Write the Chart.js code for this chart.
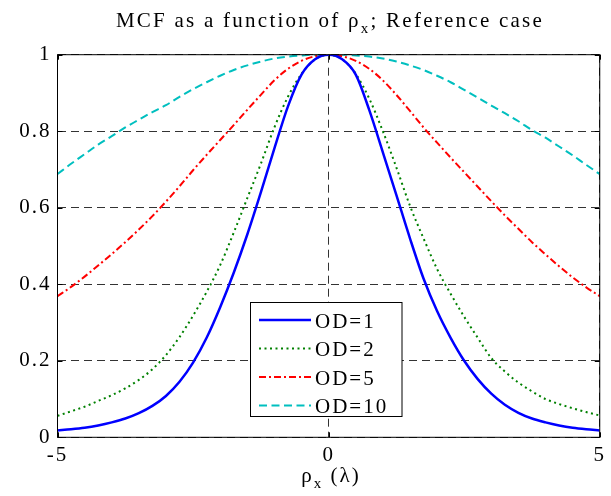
<!DOCTYPE html>
<html><head><meta charset="utf-8">
<script src="https://cdn.jsdelivr.net/npm/chart.js@4"></script>
<style>
html,body{margin:0;padding:0;background:#fff;}
#wrap{position:relative;width:611px;height:496px;overflow:hidden;}
canvas{position:absolute;left:0;top:0;}
.t{position:absolute;font-family:"Liberation Serif","Times New Roman",serif;font-size:21px;letter-spacing:2px;white-space:nowrap;color:#000;line-height:1;transform:translateX(-50%);}
.t sub{font-size:15px;vertical-align:-6px;line-height:0;}
</style></head>
<body><div id="wrap"><canvas id="c" width="611" height="496"></canvas>
<div class="t" id="title" style="left:330px;top:10px;letter-spacing:2.25px;">MCF as a function of ρ<sub>x</sub>; Reference case</div>
<div class="t" id="xlab" style="left:331px;top:465px;">ρ<sub>x</sub> (λ)</div>
</div>
<script>
const xValues = [-5,-4.75,-4.5,-4.25,-4,-3.75,-3.5,-3.25,-3,-2.75,-2.5,-2.25,-2,-1.75,-1.5,-1.25,-1,-0.75,-0.5,-0.25,0,
                 0.25,0.5,0.75,1,1.25,1.5,1.75,2,2.25,2.5,2.75,3,3.25,3.5,3.75,4,4.25,4.5,4.75,5];
const od1 = [0.018,0.021,0.025,0.031,0.039,0.049,0.063,0.082,0.108,0.145,0.195,0.26,0.34,0.43,0.53,0.64,0.755,0.865,0.948,0.988,1,
             0.988,0.948,0.855,0.745,0.633,0.52,0.415,0.33,0.26,0.2,0.152,0.114,0.085,0.064,0.049,0.039,0.031,0.025,0.021,0.018];
const od2 = [0.056,0.068,0.08,0.095,0.11,0.128,0.15,0.178,0.215,0.262,0.318,0.38,0.45,0.535,0.625,0.715,0.81,0.89,0.95,0.988,1,
             0.988,0.95,0.885,0.8,0.705,0.605,0.52,0.44,0.375,0.315,0.26,0.207,0.172,0.143,0.12,0.1,0.087,0.076,0.066,0.057];
const od5 = [0.369,0.393,0.42,0.449,0.479,0.51,0.543,0.578,0.616,0.656,0.698,0.738,0.777,0.816,0.856,0.895,0.933,0.963,0.984,0.996,1,
             0.996,0.984,0.963,0.933,0.895,0.853,0.81,0.77,0.731,0.693,0.655,0.617,0.58,0.545,0.51,0.478,0.447,0.418,0.392,0.369];
const od10 = [0.688,0.715,0.74,0.765,0.787,0.81,0.83,0.85,0.868,0.89,0.91,0.928,0.945,0.96,0.972,0.982,0.99,0.995,0.998,1,1,
              1,0.998,0.995,0.99,0.982,0.972,0.96,0.945,0.928,0.908,0.888,0.867,0.847,0.826,0.803,0.783,0.76,0.737,0.712,0.688];
const seriesLabels = ['OD=1','OD=2','OD=5','OD=10'];
const xTickLabels = ['-5','0','5'];
const yTickLabels = ['0','0.2','0.4','0.6','0.8','1'];

const FONT = '"Liberation Serif", "Times New Roman", serif';
const pts = arr => arr.map((v,i)=>({x:xValues[i], y:v}));

const frame = {
  id:'frame',
  beforeDraw(chart){ chart.ctx.letterSpacing = '2px'; },
  afterDatasetsDraw(chart){
    const ctx = chart.ctx, a = chart.chartArea;
    const xs = chart.scales.x, ys = chart.scales.y;
    ctx.save();
    ctx.setLineDash([]);
    ctx.strokeStyle = '#000'; ctx.lineWidth = 1;
    ctx.beginPath();
    xs.ticks.forEach(t => { const p = Math.round(xs.getPixelForValue(t.value)) + 0.5;
      ctx.moveTo(p, a.bottom); ctx.lineTo(p, a.bottom - 5);
      ctx.moveTo(p, a.top); ctx.lineTo(p, a.top + 5); });
    ys.ticks.forEach(t => { const p = Math.round(ys.getPixelForValue(t.value)) + 0.5;
      ctx.moveTo(a.left, p); ctx.lineTo(a.left + 5, p);
      ctx.moveTo(a.right, p); ctx.lineTo(a.right - 5, p); });
    ctx.stroke();
    ctx.strokeRect(a.left, a.top, a.right - a.left, a.bottom - a.top);
    const L = 250.5, T = 302.5, W = 151.5, H = 114;
    ctx.fillStyle = '#fff'; ctx.fillRect(L, T, W, H);
    ctx.strokeStyle = '#000'; ctx.lineWidth = 1; ctx.strokeRect(L, T, W, H);
    chart.data.datasets.forEach((ds, i) => {
      const y = 320 + i * 28.5;
      ctx.save();
      ctx.strokeStyle = ds.borderColor; ctx.lineWidth = ds.borderWidth;
      ctx.setLineDash(ds.borderDash || []);
      ctx.beginPath(); ctx.moveTo(259, y); ctx.lineTo(311, y); ctx.stroke();
      ctx.restore();
      ctx.fillStyle = '#000'; ctx.font = '21px ' + FONT; ctx.letterSpacing = '2px';
      ctx.textBaseline = 'alphabetic'; ctx.textAlign = 'left';
      ctx.fillText(ds.label, 315, y + 7.5);
    });
    ctx.restore();
  }
};

new Chart(document.getElementById('c'), {
  type: 'line',
  data: { datasets: [
    { label: seriesLabels[0], data: pts(od1), borderColor: '#0000ff', borderWidth: 2.5, borderDash: [] },
    { label: seriesLabels[1], data: pts(od2), borderColor: '#008000', borderWidth: 2, borderDash: [2, 3.5] },
    { label: seriesLabels[2], data: pts(od5), borderColor: '#ff0000', borderWidth: 2, borderDash: [7, 3, 2, 3] },
    { label: seriesLabels[3], data: pts(od10), borderColor: '#00bfbf', borderWidth: 2, borderDash: [8, 4.5] }
  ]},
  options: {
    responsive: false, animation: false, devicePixelRatio: 1,
    elements: { point: { radius: 0 }, line: { cubicInterpolationMode: 'monotone', fill: false } },
    layout: { padding: { left: 0, right: 7.5, top: 54.7, bottom: 0 } },
    plugins: { legend: { display: false }, title: { display: false }, tooltip: { enabled: false } },
    scales: {
      x: { type: 'linear', min: -5, max: 5,
        afterFit: s => { s.height = 58.7; },
        ticks: { stepSize: 5, autoSkip: false, maxRotation: 0, padding: 6, color: '#000',
                 font: { family: FONT, size: 21 }, callback: (v, i) => xTickLabels[i] },
        grid: { color: '#333', lineWidth: 1, drawTicks: false },
        border: { display: false, dash: [8, 5] } },
      y: { type: 'linear', min: 0, max: 1,
        afterFit: s => { s.width = 57.5; },
        ticks: { stepSize: 0.2, autoSkip: false, padding: 6, color: '#000',
                 font: { family: FONT, size: 21 }, callback: (v, i) => yTickLabels[i] },
        grid: { color: '#333', lineWidth: 1, drawTicks: false },
        border: { display: false, dash: [8, 5] } }
    }
  },
  plugins: [frame]
});
</script>
</body></html>
